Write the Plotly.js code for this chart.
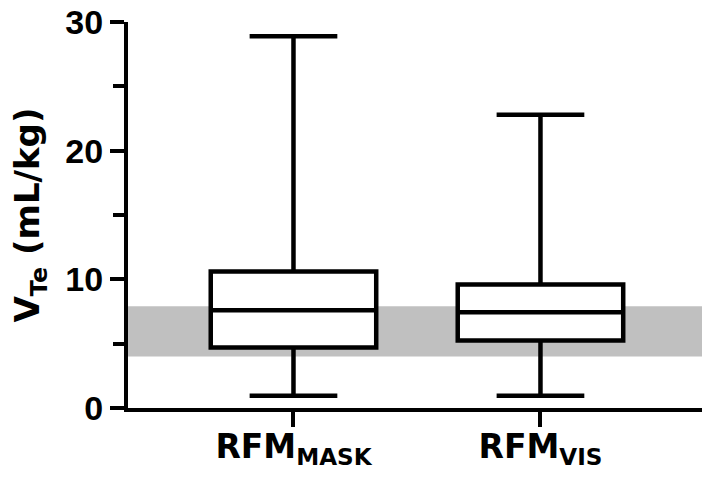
<!DOCTYPE html>
<html>
<head>
<meta charset="utf-8">
<script src="https://cdn.plot.ly/plotly-3.0.1.min.js"></script>
<style>html,body{margin:0;padding:0;background:#fff;}#chart{width:702px;height:481px;}</style>
</head>
<body>
<div id="chart"></div>
<script>
// Data
const categories = ['RFM<sub>MASK</sub>', 'RFM<sub>VIS</sub>'];
const lowerWhisker = [0.95, 0.95];
const q1Values = [4.7, 5.25];
const medianValues = [7.6, 7.45];
const q3Values = [10.6, 9.6];
const upperWhisker = [28.9, 22.8];
const bandRange = [4, 7.9];
const yTicks = [0, 10, 20, 30];
const yTitle = 'V<sub>Te</sub> (mL/kg)';

const trace = {
  type: 'box',
  x: categories,
  q1: q1Values,
  median: medianValues,
  q3: q3Values,
  lowerfence: lowerWhisker,
  upperfence: upperWhisker,
  width: 0.67,
  whiskerwidth: 0.53,
  fillcolor: '#ffffff',
  line: {color: '#000000', width: 4.5},
  boxpoints: false,
  hoverinfo: 'skip',
  showlegend: false
};

const layout = {
  width: 702,
  height: 481,
  margin: {l: 128, r: 0, t: 22, b: 73},
  paper_bgcolor: '#ffffff',
  plot_bgcolor: 'rgba(0,0,0,0)',
  showlegend: false,
  xaxis: {
    type: 'category',
    range: [-0.67, 1.654],
    showgrid: false,
    zeroline: false,
    showline: true,
    linecolor: '#000',
    linewidth: 4,
    ticks: 'outside',
    ticklen: 15,
    tickwidth: 4,
    tickcolor: '#000',
    ticklabelstandoff: -9,
    tickfont: {family: 'DejaVu Sans', size: 33, color: '#000', weight: 700},
    fixedrange: true
  },
  yaxis: {
    range: [0, 30],
    tickvals: yTicks,
    ticktext: yTicks.map(String),
    showgrid: false,
    zeroline: false,
    showline: true,
    linecolor: '#000',
    linewidth: 4,
    ticks: 'outside',
    ticklen: 14,
    tickwidth: 4,
    tickcolor: '#000',
    minor: {dtick: 5, tick0: 0, ticks: 'outside', ticklen: 11, tickwidth: 4, tickcolor: '#000', showgrid: false},
    tickfont: {family: 'Liberation Sans', size: 34, color: '#000', weight: 700},
    title: {text: yTitle, font: {family: 'DejaVu Sans', size: 34, color: '#000', weight: 700}, standoff: 16},
    fixedrange: true
  },
  shapes: [{
    type: 'rect',
    xref: 'paper', yref: 'y',
    x0: 0, x1: 1,
    y0: bandRange[0], y1: bandRange[1],
    fillcolor: '#c0c0c0',
    line: {width: 0},
    layer: 'below'
  }]
};

Plotly.newPlot('chart', [trace], layout, {displayModeBar: false, staticPlot: true});
</script>
</body>
</html>
